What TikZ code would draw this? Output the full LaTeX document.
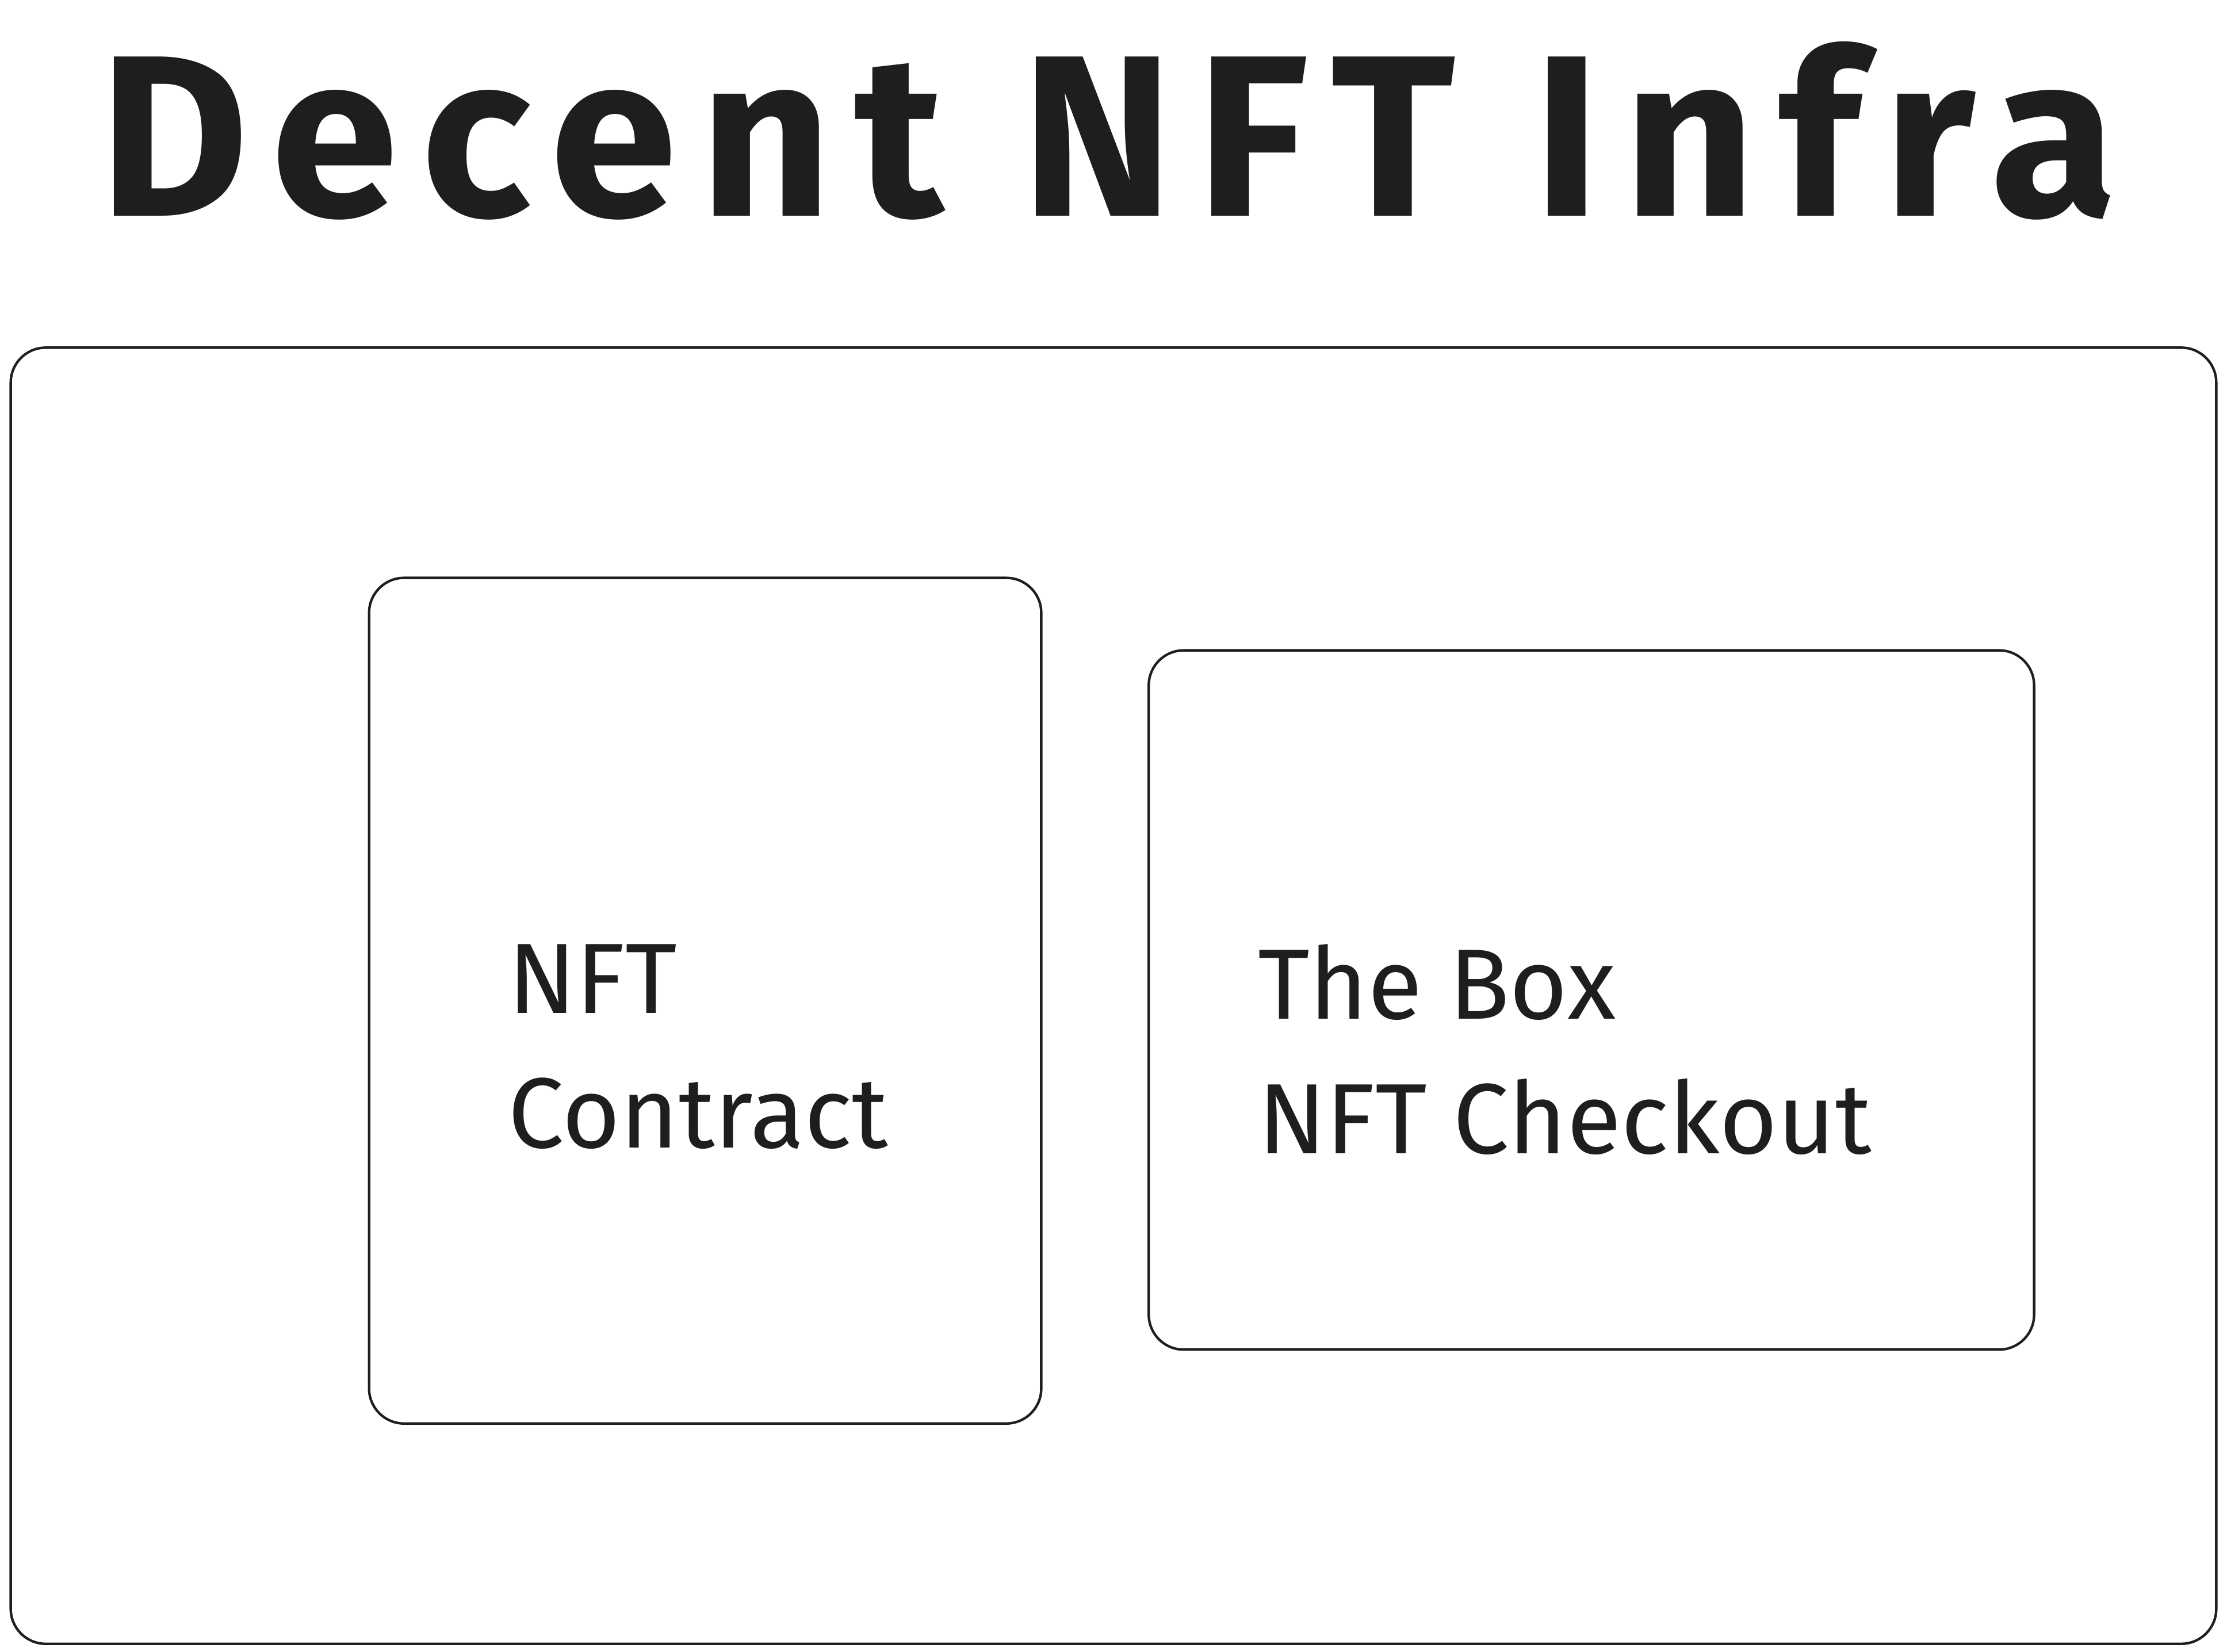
\documentclass[tikz,border=0pt]{standalone}
\usepackage{fontspec}
\newfontfamily\handfont{Fira Sans}
\newfontfamily\titlefont[LetterSpace=10]{Fira Sans}
\usepackage{xcolor}
\usetikzlibrary{positioning}
\definecolor{ink}{HTML}{1E1E1E}
\tikzset{
  frame/.style={draw=ink,line width=0.5pt,rounded corners=7pt,inner sep=0pt},
  label/.style={align=left,inner sep=0pt,text=ink,font=\handfont\fontsize{20}{27}\selectfont},
  heading/.style={inner sep=0pt,text=ink,font=\titlefont\bfseries\fontsize{46}{50}\selectfont}
}
\begin{document}
\begin{tikzpicture}[x=0.01cm,y=-0.01cm]
  \useasboundingbox (0,0) rectangle (1568,1163);
  \node[heading,anchor=base] (title) at (780,152) {Decent NFT Infra};
  \node[frame,minimum width=15.52cm,minimum height=9.12cm] (infra) at (784,701) {};
  \node[frame,minimum width=4.73cm,minimum height=5.95cm] (contract) at (496.5,704.5) {};
  \node[frame,minimum width=6.23cm,minimum height=4.92cm] (checkout) at (1120.5,704) {};
  \node[label,anchor=north west] (contracttext) at (357,664) {NFT\\Contract};
  \node[label,anchor=north west] (checkouttext) at (885,664) {The Box\\NFT Checkout};
\end{tikzpicture}
\end{document}
